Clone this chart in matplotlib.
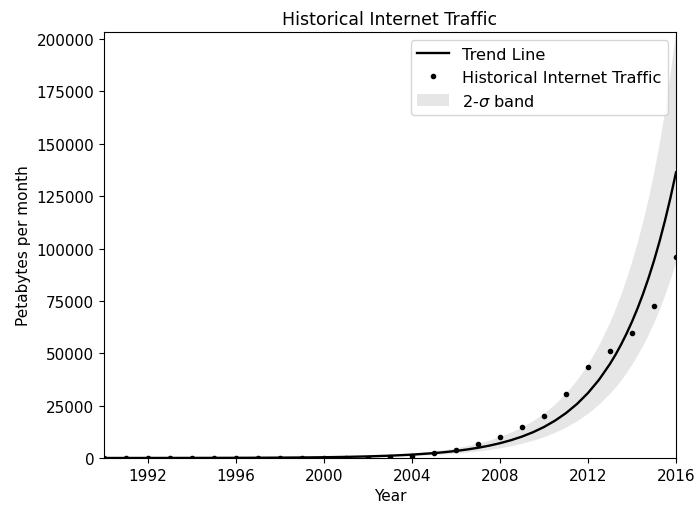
import numpy as np
import matplotlib
matplotlib.use('Agg')
from matplotlib import pyplot as plt
from matplotlib.ticker import ScalarFormatter
from matplotlib.patches import Patch
from matplotlib.lines import Line2D

plt.rcParams['font.family'] = 'DejaVu Sans'
plt.rcParams['font.size'] = 11

# historical traffic, petabytes per month
years = [1990, 1991, 1992, 1993, 1994, 1995, 1996, 1997, 1998, 1999,
         2000, 2001, 2002, 2003, 2004, 2005, 2006, 2007, 2008, 2009,
         2010, 2011, 2012, 2013, 2014, 2015, 2016]
traffic = [0.001, 0.002, 0.005, 0.01, 0.02, 0.18, 1.5, 3, 6.5, 16,
           27, 65, 110, 470, 1000, 2426, 3992, 6579, 10174, 14686,
           20151, 30734, 43570, 51168, 59848, 72521, 96054]

# trend line and 2-sigma band
trend_years = [1990, 1991, 1992, 1993, 1994, 1995, 1996, 1997, 1998, 1999,
               2000, 2001, 2002, 2003, 2004, 2005, 2005.5, 2006, 2006.5,
               2007, 2007.5, 2008, 2008.5, 2009, 2009.5,
               2010, 2010.5, 2011, 2011.5, 2012, 2012.5,
               2013, 2013.25, 2013.5, 2013.75, 2014, 2014.25, 2014.5, 2014.75,
               2015, 2015.25, 2015.5, 2015.75, 2016]
trend = [9, 13, 19, 28, 40, 58, 83, 121, 175, 253,
         366, 530, 767, 1110, 1610, 2330, 2803, 3370, 4055,
         4880, 5872, 7070, 8506, 10230, 12309,
         14810, 17830, 21450, 25800, 31050, 37360,
         44950, 49300, 54100, 59350, 65100, 71400, 78300, 85900,
         94200, 103350, 113400, 124350, 136400]
band_upper = [13, 19, 28, 40, 58, 84, 120, 175, 254, 367,
              530, 770, 1110, 1610, 2330, 3380, 4065, 4890, 5880,
              7080, 8514, 10250, 12330, 14830, 17850,
              21470, 25850, 31100, 37400, 45000, 54200,
              65200, 71500, 78400, 86000, 94400, 103500, 113500, 124600,
              137000, 151000, 167000, 185000, 205000]
band_lower = [6, 9, 13, 19, 28, 40, 57, 83, 121, 175,
              253, 366, 529, 766, 1110, 1610, 1934, 2330, 2798,
              3370, 4052, 4880, 5869, 7060, 8493,
              10200, 12300, 14800, 17800, 21400, 25800,
              31000, 34000, 37300, 40950, 44900, 49300, 54000, 59300,
              65000, 71300, 78200, 85800, 94100]

fig = plt.figure(figsize=(6.98, 5.10), dpi=100)
ax = fig.add_axes([0.149, 0.1, 0.8195, 0.835])

ax.fill_between(trend_years, band_lower, band_upper, color='0.9', lw=0)
ax.plot(trend_years, trend, color='k', lw=1.7)
ax.scatter(years, traffic, s=9, color='k', zorder=3)

ax.set_xlim(1990, 2016)
ax.set_ylim(0, 203300)
ax.set_xticks(np.arange(1992, 2017, 4))
ax.set_yticks(np.arange(0, 200001, 25000))
fmt = ScalarFormatter(useOffset=False)
fmt.set_scientific(False)
ax.yaxis.set_major_formatter(fmt)

ax.set_xlabel('Year')
ax.set_ylabel('Petabytes per month')
ax.set_title('Historical Internet Traffic', fontsize=12.5)

handles = [Line2D([], [], color='k', lw=1.7),
           Line2D([], [], color='k', marker='o', ls='', markersize=3),
           Patch(facecolor='0.9', edgecolor='none')]
labels = ['Trend Line', 'Historical Internet Traffic', r'2-$\sigma$ band']
ax.legend(handles, labels, loc='upper right', fontsize=11.6)

fig.savefig('out.png', dpi=100)
